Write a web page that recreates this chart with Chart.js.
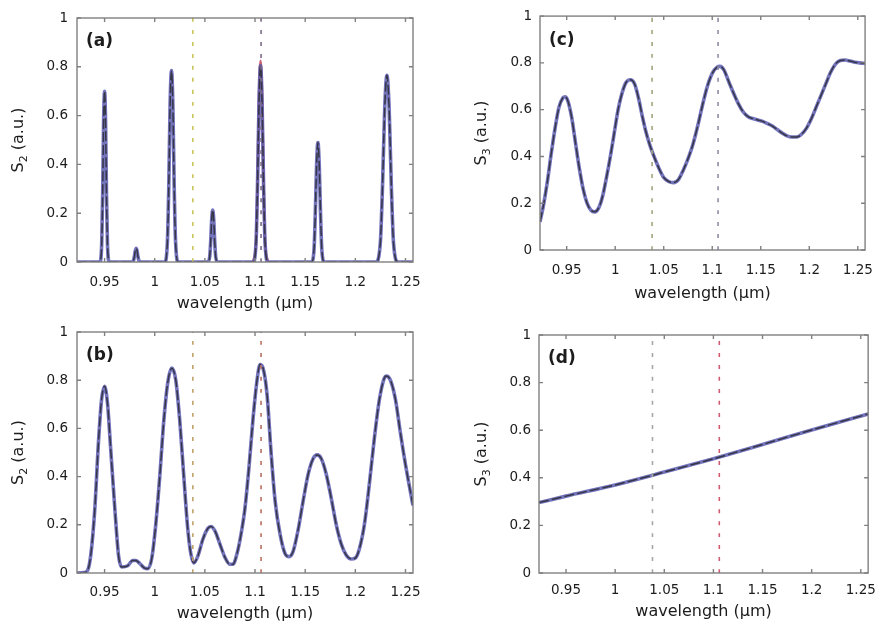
<!DOCTYPE html>
<html>
<head>
<meta charset="utf-8">
<script src="https://cdn.jsdelivr.net/npm/chart.js@4.4.0/dist/chart.umd.min.js"></script>
<style>
  body { margin: 0; background: #fff; width: 885px; height: 626px; overflow: hidden; position: relative; }
  canvas { position: absolute; }
</style>
</head>
<body>
<canvas id="panelA" width="440" height="313" style="left:0;top:0"></canvas>
<canvas id="panelC" width="445" height="313" style="left:440px;top:0"></canvas>
<canvas id="panelB" width="440" height="313" style="left:0;top:313px"></canvas>
<canvas id="panelD" width="445" height="313" style="left:440px;top:313px"></canvas>
<script>
// axis limits and ticks shared by all four panels
const xMin = 0.9225, xMax = 1.2575;
const xTicks = [0.95, 1, 1.05, 1.1, 1.15, 1.2, 1.25];
const yTicks = [0, 0.2, 0.4, 0.6, 0.8, 1];
const markerLines = [1.038, 1.106];

// (a) narrow resonances
const wlA = [0.9225, 0.9452, 0.9471, 0.9481, 0.9490, 0.9500, 0.9510, 0.9519, 0.9529, 0.9548,
  0.9770, 0.9788, 0.9797, 0.9806, 0.9815, 0.9824, 0.9833, 0.9842, 0.9860,
  1.0099, 1.0126, 1.0140, 1.0153, 1.0167, 1.0181, 1.0194, 1.0208, 1.0235,
  1.0528, 1.0548, 1.0558, 1.0568, 1.0578, 1.0588, 1.0598, 1.0608, 1.0628,
  1.0980, 1.1010, 1.1025, 1.1040, 1.1055, 1.1070, 1.1085, 1.1100, 1.1130,
  1.1562, 1.1588, 1.1601, 1.1614, 1.1627, 1.1640, 1.1653, 1.1666, 1.1692,
  1.2205, 1.2249, 1.2271, 1.2293, 1.2315, 1.2337, 1.2359, 1.2381, 1.2425, 1.2575];
const s2A = [0, 0, 0.07, 0.28, 0.57, 0.70, 0.57, 0.28, 0.07, 0,
  0, 0.006, 0.022, 0.046, 0.056, 0.046, 0.022, 0.006, 0,
  0, 0.08, 0.31, 0.64, 0.785, 0.64, 0.31, 0.08, 0,
  0, 0.021, 0.085, 0.175, 0.213, 0.175, 0.085, 0.021, 0,
  0, 0.08, 0.32, 0.66, 0.805, 0.66, 0.32, 0.08, 0,
  0, 0.05, 0.20, 0.40, 0.49, 0.40, 0.20, 0.05, 0,
  0, 0.077, 0.31, 0.63, 0.765, 0.63, 0.31, 0.077, 0, 0];
// second trace, only differs around 1.105
const wlAred = [1.0980, 1.1010, 1.1025, 1.1040, 1.1055, 1.1070, 1.1085, 1.1100, 1.1130];
const s2Ared = [0, 0.08, 0.33, 0.68, 0.825, 0.68, 0.33, 0.08, 0];

// (b)
const wlB = [0.9225, 0.930, 0.935, 0.940, 0.944, 0.947, 0.950, 0.953, 0.956, 0.960, 0.964, 0.967,
  0.973, 0.978, 0.981, 0.985, 0.990, 0.993, 0.997, 1.001, 1.005, 1.009, 1.013, 1.017, 1.021,
  1.025, 1.029, 1.033, 1.036, 1.039, 1.043, 1.048, 1.053, 1.056, 1.060, 1.065, 1.070, 1.075,
  1.078, 1.082, 1.086, 1.090, 1.094, 1.098, 1.102, 1.105, 1.108, 1.112, 1.116, 1.120, 1.125,
  1.130, 1.134, 1.138, 1.143, 1.148, 1.153, 1.158, 1.162, 1.166, 1.171, 1.176, 1.181, 1.186,
  1.191, 1.196, 1.200, 1.204, 1.209, 1.214, 1.219, 1.224, 1.229, 1.231, 1.235, 1.240, 1.245,
  1.250, 1.2575];
const s2B = [0, 0.002, 0.04, 0.25, 0.55, 0.72, 0.775, 0.70, 0.52, 0.28, 0.07, 0.025,
  0.030, 0.052, 0.052, 0.040, 0.020, 0.018, 0.06, 0.20, 0.40, 0.63, 0.79, 0.85, 0.80,
  0.63, 0.40, 0.18, 0.08, 0.042, 0.07, 0.14, 0.185, 0.193, 0.175, 0.12, 0.065, 0.036,
  0.036, 0.08, 0.16, 0.27, 0.44, 0.64, 0.80, 0.865, 0.85, 0.74, 0.50, 0.30, 0.16,
  0.08, 0.068, 0.09, 0.18, 0.30, 0.41, 0.475, 0.49, 0.475, 0.41, 0.31, 0.20, 0.12,
  0.074, 0.058, 0.062, 0.10, 0.20, 0.37, 0.56, 0.72, 0.81, 0.817, 0.80, 0.72, 0.58,
  0.45, 0.28];

// (c)
const wlC = [0.9225, 0.926, 0.930, 0.934, 0.938, 0.942, 0.946, 0.9485, 0.951, 0.955, 0.959, 0.963,
  0.967, 0.971, 0.975, 0.979, 0.983, 0.987, 0.991, 0.995, 0.999, 1.003, 1.007, 1.011, 1.0155,
  1.020, 1.024, 1.028, 1.032, 1.036, 1.040, 1.045, 1.050, 1.055, 1.060, 1.065, 1.070, 1.075,
  1.080, 1.085, 1.090, 1.095, 1.100, 1.105, 1.108, 1.112, 1.117, 1.122, 1.127, 1.132, 1.137,
  1.142, 1.147, 1.152, 1.157, 1.162, 1.167, 1.172, 1.177, 1.182, 1.187, 1.192, 1.197, 1.202,
  1.207, 1.212, 1.217, 1.222, 1.227, 1.232, 1.237, 1.242, 1.247, 1.252, 1.2575];
const s3C = [0.12, 0.19, 0.29, 0.41, 0.52, 0.61, 0.65, 0.655, 0.64, 0.57, 0.46, 0.35,
  0.26, 0.20, 0.17, 0.163, 0.18, 0.23, 0.31, 0.40, 0.50, 0.60, 0.67, 0.715, 0.728,
  0.71, 0.65, 0.57, 0.50, 0.445, 0.40, 0.35, 0.31, 0.293, 0.288, 0.30, 0.34, 0.39,
  0.45, 0.53, 0.62, 0.70, 0.755, 0.782, 0.785, 0.77, 0.72, 0.67, 0.625, 0.59, 0.57,
  0.562, 0.556, 0.55, 0.54, 0.53, 0.515, 0.50, 0.488, 0.483, 0.483, 0.495, 0.52, 0.56,
  0.61, 0.66, 0.71, 0.76, 0.795, 0.81, 0.812, 0.808, 0.803, 0.80, 0.798];

// (d)
const wlD = [0.9225, 0.95, 1.0, 1.05, 1.1, 1.15, 1.2, 1.2575];
const s3D = [0.296, 0.323, 0.370, 0.424, 0.480, 0.540, 0.601, 0.668];

const pts = (xs, ys) => xs.map((x, i) => ({x: x, y: ys[i]}));

const fontFamily = '"DejaVu Sans", "Liberation Sans", sans-serif';
const ink = '#1c1c1c';

// box, inward ticks, panel letter and the S_n (a.u.) label with a real subscript
const framePlugin = {
  id: 'frame',
  afterDraw(chart, args, opts) {
    const {ctx, chartArea: a, scales: {x, y}} = chart;
    ctx.save();
    ctx.strokeStyle = '#808080';
    ctx.lineWidth = 1.4;
    ctx.strokeRect(a.left, a.top, a.right - a.left, a.bottom - a.top);
    ctx.beginPath();
    xTicks.forEach(v => {
      const px = x.getPixelForValue(v);
      ctx.moveTo(px, a.bottom); ctx.lineTo(px, a.bottom - 4);
      ctx.moveTo(px, a.top); ctx.lineTo(px, a.top + 4);
    });
    yTicks.forEach(v => {
      const py = y.getPixelForValue(v);
      ctx.moveTo(a.left, py); ctx.lineTo(a.left + 4, py);
      ctx.moveTo(a.right, py); ctx.lineTo(a.right - 4, py);
    });
    ctx.stroke();

    ctx.fillStyle = ink;
    ctx.font = 'bold 17px ' + fontFamily;
    ctx.textBaseline = 'middle';
    ctx.fillText(opts.letter, a.left + 9, a.top + 24);

    // rotated axis label: S, subscript, then the unit
    const big = '16px ' + fontFamily, small = '11px ' + fontFamily;
    ctx.font = big;
    const wS = ctx.measureText('S').width, wU = ctx.measureText(' (a.u.)').width;
    ctx.font = small;
    const wSub = ctx.measureText(opts.sub).width;
    const total = wS + wSub + wU;
    ctx.translate(opts.labelX, (a.top + a.bottom) / 2);
    ctx.rotate(-Math.PI / 2);
    ctx.textBaseline = 'alphabetic';
    let cx = -total / 2;
    ctx.font = big;
    ctx.fillText('S', cx, 6);
    cx += wS;
    ctx.font = small;
    ctx.fillText(opts.sub, cx, 10);
    cx += wSub;
    ctx.font = big;
    ctx.fillText(' (a.u.)', cx, 6);
    ctx.restore();
  }
};

function curveSets(data, red) {
  const sets = [];
  markerLines.forEach((m, i) => sets.push({
    data: [{x: m, y: 0}, {x: m, y: 1}],
    borderColor: data.markerColors[i], borderWidth: 1.6, borderDash: [4, 8], order: 0
  }));
  sets.push({data: data.points, borderColor: '#363646', borderWidth: 1.5, borderDash: [10, 3], order: 1});
  sets.push({data: data.points, borderColor: 'rgba(92,92,178,0.85)', borderWidth: 3.6, order: 2});
  if (red) sets.push({data: red, borderColor: 'rgba(200,70,90,0.85)', borderWidth: 2.6, order: 3});
  return sets;
}

function makePanel(id, p) {
  new Chart(document.getElementById(id), {
    type: 'line',
    data: {datasets: curveSets(p, p.red)},
    plugins: [framePlugin],
    options: {
      responsive: false,
      animation: false,
      devicePixelRatio: 1,
      layout: {padding: {left: 0, top: p.padTop, right: p.padRight, bottom: 0}},
      elements: {
        point: {radius: 0},
        line: {cubicInterpolationMode: 'monotone', fill: false}
      },
      plugins: {
        legend: {display: false}, tooltip: {enabled: false},
        frame: {letter: p.letter, sub: p.sub, labelX: p.labelX}
      },
      scales: {
        x: {
          type: 'linear', min: xMin, max: xMax,
          grid: {display: false, drawTicks: false}, border: {display: false},
          afterBuildTicks: s => { s.ticks = xTicks.map(v => ({value: v})); },
          afterFit: s => { s.height = p.xHeight; },
          ticks: {
            padding: p.xTickPad, color: ink, font: {family: fontFamily, size: 13.5},
            maxRotation: 0, autoSkip: false,
            callback: v => String(Math.round(v * 100) / 100)
          },
          title: {
            display: true, text: 'wavelength (µm)', color: ink,
            font: {family: fontFamily, size: 16}, padding: {top: 0, bottom: p.xTitlePad}
          }
        },
        y: {
          type: 'linear', min: 0, max: 1,
          grid: {display: false, drawTicks: false}, border: {display: false},
          afterBuildTicks: s => { s.ticks = yTicks.map(v => ({value: v})); },
          afterFit: s => { s.width = p.yWidth; },
          ticks: {
            padding: p.yTickPad, color: ink, font: {family: fontFamily, size: 13.5},
            callback: v => String(Math.round(v * 10) / 10)
          }
        }
      }
    }
  });
}

makePanel('panelA', {
  letter: '(a)', sub: '2', labelX: 17, points: pts(wlA, s2A), red: pts(wlAred, s2Ared),
  markerColors: ['#c9c45a', '#7d6a86'],
  padTop: 18, padRight: 27, yWidth: 77, xHeight: 51,
  xTickPad: 12, xTitlePad: 0, yTickPad: 9
});
makePanel('panelC', {
  letter: '(c)', sub: '3', labelX: 40, points: pts(wlC, s3C),
  markerColors: ['#a2a47e', '#8e8ea6'],
  padTop: 13, padRight: 8, yWidth: 100, xHeight: 63,
  xTickPad: 12, xTitlePad: 10, yTickPad: 8
});
makePanel('panelB', {
  letter: '(b)', sub: '2', labelX: 17, points: pts(wlB, s2B),
  markerColors: ['#bfa46a', '#b8705e'],
  padTop: 19, padRight: 27, yWidth: 77, xHeight: 53,
  xTickPad: 11, xTitlePad: 3, yTickPad: 9
});
makePanel('panelD', {
  letter: '(d)', sub: '3', labelX: 40, points: pts(wlD, s3D),
  markerColors: ['#a6a6a6', '#cf5a72'],
  padTop: 22, padRight: 8, yWidth: 99, xHeight: 53,
  xTickPad: 9, xTitlePad: 5, yTickPad: 8
});
</script>
</body>
</html>
